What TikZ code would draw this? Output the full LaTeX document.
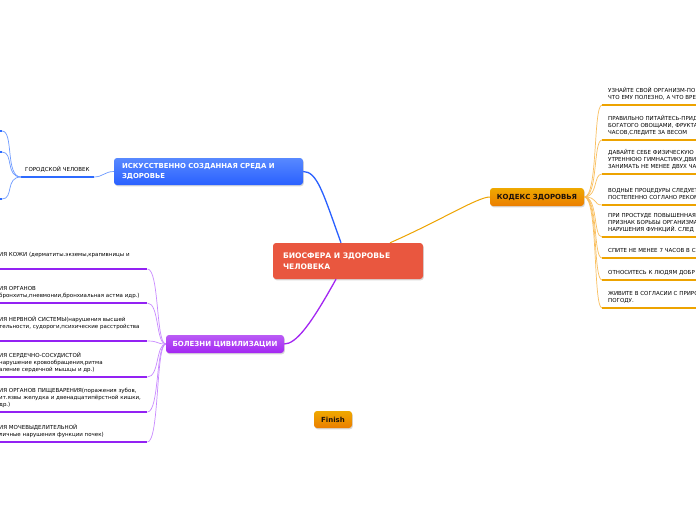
\documentclass[tikz,border=0pt]{standalone}
\usepackage{fontspec}
\setmainfont{DejaVu Sans}
\usetikzlibrary{shadows}

\definecolor{rootred}{HTML}{E9573F}
\definecolor{isblue}{HTML}{2E6BFF}
\definecolor{kodorange}{HTML}{E98C00}
\definecolor{bolpurple}{HTML}{A326F2}
\definecolor{lnblue}{HTML}{6E9BFF}
\definecolor{lnorange}{HTML}{F9BF5F}
\definecolor{lnpurple}{HTML}{C98AFF}

\tikzset{
  topic/.style={rounded corners=3pt, align=left, inner sep=0pt,
    font=\bfseries\fontsize{7}{10}\selectfont,
    drop shadow={opacity=.3, shadow xshift=.8pt, shadow yshift=-1.3pt}},
  leaf/.style={anchor=south west, inner xsep=0pt, inner ysep=2.9pt, align=left,
    font=\fontsize{5.5}{7}\selectfont, execute at end node=\strut},
  leafo/.style={leaf, inner xsep=6pt, text width=120pt},
  leafp/.style={leaf, text width=148pt},
  leafb/.style={leaf, inner xsep=4pt},
  ulo/.style={line width=2.6pt, draw=kodorange!80!yellow},
  ulp/.style={line width=2.6pt, draw=bolpurple!90!blue},
  ulb/.style={line width=2.6pt, draw=isblue},
  lno/.style={line width=.7pt, draw=lnorange},
  lnp/.style={line width=.7pt, draw=lnpurple},
  lnb/.style={line width=.7pt, draw=lnblue}
}

\begin{document}
\begin{tikzpicture}[x=1pt,y=-1pt]
  \useasboundingbox (0,0) rectangle (696,520);
  \clip (0,0) rectangle (696,520);
  \fill[white] (0,0) rectangle (696,520);

  \node[topic, fill=rootred, text=white, minimum width=150pt, minimum height=36pt,
    text width=130pt, font=\bfseries\fontsize{7.6}{10.5}\selectfont] (root) at (348,261) {БИОСФЕРА И ЗДОРОВЬЕ\\ЧЕЛОВЕКА};
  \node[topic, top color=isblue!80!white, bottom color=isblue!90!blue, text=white,
    minimum width=189pt, minimum height=27pt, text width=173pt, font=\bfseries\fontsize{6.9}{9.5}\selectfont]
    (iskus) at (208.5,171.5) {ИСКУССТВЕННО СОЗДАННАЯ СРЕДА И\\ЗДОРОВЬЕ};
  \node[topic, top color=kodorange!75!yellow, bottom color=kodorange!90!red, text=black!85!brown,
    minimum width=94pt, minimum height=18pt, align=center] (kodeks) at (537,197) {КОДЕКС ЗДОРОВЬЯ};
  \node[topic, top color=bolpurple!75!white, bottom color=bolpurple, text=white,
    minimum width=118pt, minimum height=18pt, align=center] (bolezni) at (225,344) {БОЛЕЗНИ ЦИВИЛИЗАЦИИ};
  \node[topic, top color=kodorange!75!yellow, bottom color=kodorange!90!red, text=black!85!brown,
    minimum width=38pt, minimum height=17pt, align=center] (finish) at (333,419.5) {Finish};

  \draw[line width=1.3pt, isblue!90!blue] ([xshift=-7pt]root.north) .. controls +(-18,-50) and +(14,0) .. (iskus.east);
  \draw[line width=1pt, kodorange!80!yellow] ([xshift=42pt]root.north) .. controls +(50,-22) and +(-12,0) .. (kodeks.west);
  \draw[line width=1.3pt, bolpurple] ([xshift=-12pt]root.south) .. controls +(-25,45) and +(12,0) .. (bolezni.east);

  \foreach \n/\y/\t in {
    o1/105/{УЗНАЙТЕ СВОЙ ОРГАНИЗМ-ПО\\ЧТО ЕМУ ПОЛЕЗНО, А ЧТО ВРЕ},
    o2/140/{ПРАВИЛЬНО ПИТАЙТЕСЬ-ПРИД\\БОГАТОГО ОВОЩАМИ, ФРУКТА\\ЧАСОВ,СЛЕДИТЕ ЗА ВЕСОМ},
    o3/174/{ДАВАЙТЕ СЕБЕ ФИЗИЧЕСКУЮ\\УТРЕННЮЮ ГИМНАСТИКУ,ДВИ\\ЗАНИМАТЬ НЕ МЕНЕЕ ДВУХ ЧА},
    o4/205/{ВОДНЫЕ ПРОЦЕДУРЫ СЛЕДУЕТ\\ПОСТЕПЕННО СОГЛАНО РЕКОМ},
    o5/237/{ПРИ ПРОСТУДЕ ПОВЫШЕННАЯ\\ПРИЗНАК БОРЬБЫ ОРГАНИЗМА\\НАРУШЕНИЯ ФУНКЦИЙ. СЛЕД},
    o6/258/{СПИТЕ НЕ МЕНЕЕ 7 ЧАСОВ В С},
    o7/280/{ОТНОСИТЕСЬ К ЛЮДЯМ ДОБР},
    o8/308/{ЖИВИТЕ В СОГЛАСИИ С ПРИРО\\ПОГОДУ.}}{
    \node[leafo] (\n) at (602,\y) {\t};
    \draw[lno] (kodeks.east) .. controls +(14,0) and +(-9,0) .. (\n.south west);
    \draw[ulo] (\n.south west) -- (\n.south east);
  }

  \foreach \n/\y/\t in {
    p1/269/{ИЯ КОЖИ (дерматиты.экземы,крапивницы и\\~},
    p2/303/{ИЯ ОРГАНОВ\\бронхиты,пневмонии,бронхиальная астма идр.)},
    p3/341/{ИЯ НЕРВНОЙ СИСТЕМЫ(нарушения высшей\\тельности, судороги,психические расстройства\\~},
    p4/377/{ИЯ СЕРДЕЧНО-СОСУДИСТОЙ\\нарушение кровообращения,ритма\\аление сердечной мышцы и др.)},
    p5/412/{ИЯ ОРГАНОВ ПИЩЕВАРЕНИЯ(поражения зубов,\\ит.язвы желудка и двенадцатипёрстной кишки,\\др.)},
    p6/442/{ИЯ МОЧЕВЫДЕЛИТЕЛЬНОЙ\\личные нарушения функции почек)}}{
    \node[leafp] (\n) at (-1,\y) {\t};
    \draw[lnp] (\n.south east) .. controls +(12,0) and +(-10,0) .. (bolezni.west);
    \draw[ulp] (\n.south west) -- (\n.south east);
  }

  \node[leafb] (gorod) at (21,177) {ГОРОДСКОЙ ЧЕЛОВЕК};
  \draw[lnb] (gorod.south east) .. controls +(9,0) and +(-9,0) .. (iskus.west);
  \draw[ulb] (gorod.south west) -- (gorod.south east);
  \foreach \n/\y in {g1/131, g2/152, g3/199}{
    \coordinate (\n) at (2,\y);
    \draw[lnb] (gorod.south west) .. controls +(-16,0) and +(12,0) .. (\n);
    \draw[ulb] (\n) -- ++(-10,0);
  }
\end{tikzpicture}
\end{document}
